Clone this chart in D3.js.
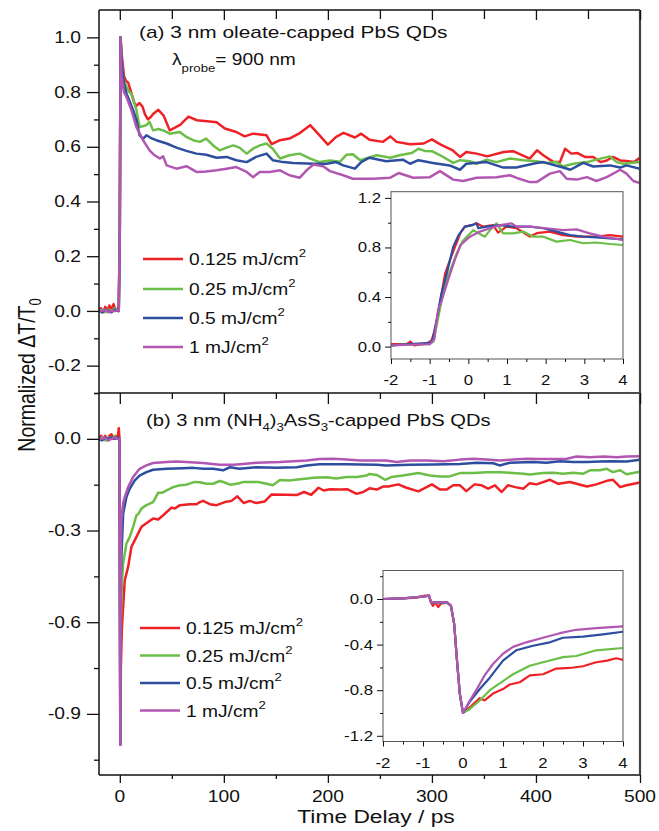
<!DOCTYPE html>
<html><head><meta charset="utf-8">
<script src="https://cdn.jsdelivr.net/npm/d3@7"></script>
<style>body{margin:0;background:#fff} text{font-family:"Liberation Sans",Arial,sans-serif;fill:#111}</style>
</head><body><svg id="c" width="659" height="831"></svg>
<script>
const legendLabels = ["0.125 mJ/cm","0.25 mJ/cm","0.5 mJ/cm","1 mJ/cm"];
const colors = ["#ee2226","#6cbe47","#2d4d9f","#b157b1"];

// Panel (a) main traces [time ps, normalized dT/T0]
const aRed = [[-20,0],[-18,0.01],[-16,-0.005],[-14,0.015],[-12,0],[-10,0.02],[-8,0.005],[-6,0.025],[-4,0],[-2,0.01],[-1,0.005],[0,0.3],[0.7,1.0],[2,0.93],[4,0.86],[6,0.84],[8,0.835],[10,0.81],[12,0.785],[14,0.76],[16,0.75],[19,0.76],[22,0.745],[24,0.72],[27,0.70],[30,0.71],[32,0.72],[37,0.735],[42,0.715],[48,0.66],[53,0.67],[58,0.68],[66,0.71],[74,0.697],[84,0.693],[93,0.69],[101,0.667],[112,0.654],[120,0.638],[128,0.648],[141,0.642],[146,0.61],[154,0.624],[163,0.63],[173,0.65],[183,0.679],[192,0.642],[200,0.608],[208,0.636],[215,0.651],[226,0.634],[232,0.648],[240,0.626],[253,0.618],[260,0.638],[266,0.618],[279,0.609],[292,0.612],[300,0.627],[308,0.609],[320,0.587],[327,0.563],[333,0.581],[343,0.575],[353,0.565],[369,0.581],[378,0.584],[394,0.557],[401,0.587],[407,0.569],[417,0.544],[423,0.544],[428,0.593],[434,0.575],[440,0.577],[447,0.563],[455,0.563],[462,0.544],[468,0.55],[474,0.563],[481,0.55],[487,0.548],[494,0.544],[500,0.56]];
const aGreen = [[-20,0],[-17,0.005],[-14,-0.005],[-11,0.005],[-8,0],[-5,0.01],[-2,0],[-1,0],[0,0.3],[0.7,1.0],[2,0.9],[4,0.84],[6.4,0.82],[9,0.80],[11,0.795],[14,0.76],[16,0.734],[19,0.672],[22,0.675],[25.6,0.679],[28.6,0.691],[32,0.66],[37,0.665],[41.7,0.66],[48,0.648],[57.7,0.654],[64,0.636],[70.5,0.624],[77,0.618],[83,0.63],[89.7,0.605],[96,0.587],[102.6,0.597],[109,0.605],[115,0.597],[122,0.575],[128,0.593],[134.6,0.605],[141,0.612],[147,0.593],[154,0.557],[163,0.569],[173,0.575],[183,0.557],[192,0.544],[202,0.55],[211.5,0.545],[218,0.571],[224,0.573],[231,0.551],[247,0.569],[260,0.56],[269,0.569],[280.5,0.577],[287,0.593],[293,0.585],[300,0.584],[308,0.569],[320.5,0.541],[327,0.551],[336.5,0.547],[343,0.538],[352.6,0.553],[362,0.544],[375,0.557],[388,0.551],[400.6,0.547],[410,0.541],[420,0.544],[426,0.528],[436,0.538],[449,0.544],[458,0.553],[471,0.565],[477.6,0.544],[484,0.538],[500,0.544]];
const aBlue = [[-20,0],[-17,-0.005],[-14,0.005],[-11,0],[-8,-0.005],[-5,0.005],[-2,0],[-1,0],[0,0.3],[0.7,1.0],[2,0.9],[4,0.83],[6.4,0.795],[9,0.77],[12.8,0.734],[16,0.697],[19,0.642],[22.4,0.63],[25.6,0.642],[30,0.632],[35,0.624],[45,0.612],[54.5,0.597],[64,0.585],[73.7,0.575],[83,0.571],[93,0.56],[102.6,0.563],[112,0.551],[122,0.544],[131,0.563],[141,0.575],[147,0.551],[157,0.544],[166.6,0.541],[186,0.538],[199,0.538],[208,0.544],[214.7,0.532],[226,0.52],[232,0.544],[240,0.56],[256,0.547],[272,0.553],[279,0.538],[287,0.551],[301,0.541],[317,0.532],[327,0.516],[333,0.538],[352.6,0.544],[368.6,0.524],[381,0.524],[400.6,0.541],[407,0.544],[426,0.524],[433,0.516],[445.5,0.541],[455,0.528],[471,0.532],[481,0.524],[487,0.532],[500,0.52]];
const aMag = [[-20,0],[-17,0],[-14,0.005],[-11,-0.005],[-8,0],[-5,0],[-2,0.005],[-1,0],[0,0.3],[0.7,1.0],[1.6,0.86],[4,0.8],[6.4,0.782],[11.2,0.734],[16,0.672],[22.4,0.624],[28.6,0.587],[33.4,0.569],[38.5,0.557],[41.7,0.565],[45,0.532],[54.5,0.52],[64,0.529],[73.7,0.508],[83,0.51],[93,0.514],[102.6,0.52],[112,0.526],[122,0.508],[128,0.489],[134.6,0.508],[144,0.508],[154,0.514],[163,0.496],[173,0.487],[179.5,0.514],[186,0.535],[195.5,0.529],[202,0.511],[214.7,0.496],[224,0.483],[243.6,0.483],[260,0.487],[268,0.504],[282,0.487],[298,0.489],[307.7,0.511],[320.5,0.48],[330,0.475],[343,0.487],[362,0.489],[375,0.496],[381,0.487],[394,0.471],[400.6,0.471],[413.5,0.502],[423,0.511],[429.5,0.483],[439,0.48],[449,0.489],[458,0.475],[468,0.489],[481,0.516],[487,0.502],[493.6,0.475],[500,0.467]];

// Panel (a) inset traces [time ps, value]
const aInRed = [[-2,0.02],[-1.8,0.02],[-1.6,0.02],[-1.5,0.04],[-1.4,0.01],[-1.2,0.02],[-1.05,0.03],[-0.95,0.05],[-0.85,0.15],[-0.75,0.32],[-0.6,0.59],[-0.45,0.72],[-0.35,0.8],[-0.2,0.92],[-0.09,0.968],[0.085,0.98],[0.21,0.995],[0.385,0.968],[0.64,0.98],[0.77,0.92],[0.99,0.968],[1.25,0.955],[1.59,0.887],[1.77,0.915],[2.1,0.928],[2.45,0.9],[2.8,0.887],[3.3,0.887],[3.66,0.9],[4,0.887]];
const aInGreen = [[-2,0.01],[-1.5,0.02],[-1.2,0.02],[-1,0.02],[-0.9,0.04],[-0.8,0.2],[-0.7,0.36],[-0.56,0.54],[-0.3,0.753],[-0.15,0.85],[-0.04,0.887],[0.13,0.94],[0.26,0.914],[0.43,0.887],[0.56,0.94],[0.73,0.995],[0.9,0.914],[1.16,0.914],[1.42,0.928],[1.68,0.887],[1.94,0.887],[2.28,0.847],[2.63,0.86],[2.97,0.834],[3.3,0.84],[3.66,0.828],[4,0.82]];
const aInBlue = [[-2,0.01],[-1.5,0.02],[-1,0.03],[-0.92,0.06],[-0.8,0.25],[-0.7,0.42],[-0.55,0.6],[-0.39,0.806],[-0.25,0.9],[-0.09,0.968],[0.1,0.98],[0.21,0.995],[0.26,0.955],[0.47,0.968],[0.82,0.98],[1.16,0.968],[1.59,0.968],[1.94,0.955],[2.28,0.928],[2.63,0.9],[2.97,0.887],[3.32,0.882],[3.66,0.874],[4,0.866]];
const aInMag = [[-2,0.01],[-1.5,0.015],[-1,0.02],[-0.88,0.06],[-0.78,0.3],[-0.7,0.36],[-0.52,0.54],[-0.35,0.7],[-0.2,0.82],[0.04,0.887],[0.3,0.928],[0.56,0.955],[0.82,0.98],[1.12,0.995],[1.25,0.968],[1.59,0.968],[2.02,0.955],[2.45,0.94],[2.8,0.946],[3.14,0.914],[3.49,0.887],[4,0.86]];

// Panel (b) main traces
const bRed = [[-20,0],[-18,0.01],[-16,0],[-14,0.01],[-12,-0.005],[-10,0.01],[-8,0.015],[-6,0],[-4,0.01],[-2,0],[-1,0.035],[-0.3,0],[0.5,-1.0],[1,-0.75],[2,-0.62],[3.2,-0.55],[4.8,-0.462],[8,-0.419],[11.2,-0.353],[16,-0.321],[20.8,-0.288],[27.2,-0.272],[32,-0.261],[36.9,-0.264],[41.7,-0.25],[49.7,-0.225],[52.9,-0.228],[57.7,-0.217],[67.3,-0.214],[73.7,-0.214],[77,-0.207],[80,-0.203],[86.5,-0.214],[93,-0.217],[101,-0.207],[107.4,-0.203],[113,-0.188],[119,-0.21],[125,-0.203],[131,-0.21],[139.4,-0.205],[146,-0.182],[160,-0.183],[170,-0.184],[177,-0.174],[184,-0.183],[191,-0.16],[196,-0.169],[202,-0.165],[211.5,-0.166],[219,-0.165],[227.6,-0.18],[234,-0.174],[240,-0.162],[247,-0.166],[253,-0.156],[258,-0.156],[267.6,-0.149],[275.6,-0.16],[287,-0.172],[300,-0.149],[307.7,-0.166],[314,-0.166],[320.5,-0.152],[327,-0.152],[333,-0.171],[341,-0.149],[347.8,-0.152],[354,-0.163],[360.6,-0.152],[367,-0.174],[373,-0.152],[380,-0.158],[388,-0.163],[394,-0.145],[400.6,-0.149],[413.5,-0.134],[421.5,-0.147],[432.7,-0.141],[439,-0.147],[449,-0.156],[458,-0.149],[469.5,-0.136],[474,-0.134],[481,-0.158],[487,-0.152],[500,-0.143]];
const bGreen = [[-20,0],[-17,0.005],[-14,-0.005],[-11,0.005],[-8,0],[-5,0.01],[-2,0],[-0.3,0],[0.5,-1.0],[1,-0.6],[2,-0.47],[3.2,-0.408],[6.4,-0.342],[9.6,-0.321],[12.8,-0.288],[16,-0.25],[18,-0.245],[20.8,-0.228],[25.6,-0.217],[32,-0.207],[36.9,-0.176],[41,-0.176],[45,-0.169],[51.3,-0.158],[57.7,-0.152],[64,-0.15],[72,-0.141],[77,-0.142],[83,-0.147],[89.7,-0.147],[96,-0.138],[101,-0.143],[106,-0.15],[115,-0.145],[119,-0.141],[128,-0.141],[133,-0.141],[141,-0.147],[147,-0.152],[154,-0.135],[163,-0.136],[173,-0.132],[180,-0.13],[186,-0.127],[199,-0.126],[208,-0.13],[218,-0.125],[228,-0.125],[237,-0.12],[240,-0.115],[247,-0.118],[255,-0.134],[261,-0.125],[272,-0.12],[287,-0.112],[298,-0.12],[307.7,-0.123],[317,-0.123],[327,-0.112],[340,-0.112],[352.6,-0.109],[365,-0.109],[378,-0.112],[388,-0.114],[394,-0.117],[407,-0.112],[416.6,-0.111],[426,-0.114],[436,-0.111],[445.5,-0.114],[452,-0.103],[461.5,-0.103],[468,-0.098],[474,-0.109],[481,-0.103],[487,-0.116],[500,-0.108]];
const bBlue = [[-20,0],[-17,-0.005],[-14,0.005],[-11,0],[-8,0.005],[-5,0],[-2,0.005],[-0.3,0],[0.5,-1.0],[1,-0.45],[1.6,-0.38],[3.2,-0.245],[6.4,-0.19],[9.6,-0.163],[14.4,-0.136],[19,-0.12],[25.6,-0.109],[32,-0.101],[45,-0.098],[61,-0.096],[70.5,-0.095],[80,-0.098],[89.7,-0.098],[99.3,-0.103],[105.8,-0.093],[115,-0.098],[131,-0.093],[150.7,-0.095],[170,-0.093],[179.5,-0.087],[192,-0.083],[218,-0.083],[231,-0.084],[247,-0.085],[256,-0.087],[279,-0.085],[302,-0.084],[327,-0.082],[343,-0.078],[359,-0.08],[365,-0.087],[375,-0.078],[397.5,-0.076],[410,-0.078],[423,-0.073],[436,-0.076],[449,-0.076],[461.5,-0.074],[474,-0.073],[487,-0.074],[500,-0.068]];
const bMag = [[-20,0],[-17,0],[-14,0.005],[-11,-0.005],[-8,0],[-5,0.005],[-2,0],[-0.3,0],[0.5,-1.0],[1,-0.35],[1.6,-0.26],[3.2,-0.21],[4.8,-0.19],[8,-0.158],[12.8,-0.125],[19,-0.098],[25.6,-0.087],[32,-0.079],[45,-0.076],[54.5,-0.074],[64,-0.076],[80,-0.079],[96,-0.085],[109,-0.085],[118.6,-0.082],[131,-0.078],[154,-0.076],[179.5,-0.071],[192,-0.066],[205,-0.065],[218,-0.068],[231,-0.071],[247,-0.071],[256,-0.071],[266,-0.076],[279,-0.071],[295,-0.071],[311,-0.073],[327,-0.068],[340,-0.065],[352.6,-0.068],[365,-0.071],[378,-0.068],[391,-0.065],[404,-0.066],[416.6,-0.066],[429.5,-0.065],[439,-0.058],[452,-0.06],[465,-0.058],[477.6,-0.06],[487,-0.058],[500,-0.057]];

// Panel (b) inset traces
const bInRed = [[-2,0],[-1.6,0.005],[-1.2,0.01],[-0.95,0.03],[-0.85,0.03],[-0.8,-0.03],[-0.75,-0.06],[-0.7,-0.03],[-0.62,-0.07],[-0.55,-0.04],[-0.4,-0.03],[-0.3,-0.06],[-0.22,-0.22],[-0.15,-0.54],[-0.08,-0.83],[0,-1.0],[0.17,-0.95],[0.42,-0.87],[0.54,-0.89],[0.75,-0.83],[1.0,-0.79],[1.17,-0.75],[1.42,-0.73],[1.67,-0.67],[2.0,-0.66],[2.33,-0.61],[2.67,-0.605],[3.0,-0.59],[3.33,-0.555],[3.6,-0.54],[3.83,-0.52],[4.0,-0.535]];
const bInGreen = [[-2,0],[-1.5,0.005],[-1.0,0.02],[-0.85,0.03],[-0.8,-0.03],[-0.6,-0.03],[-0.4,-0.03],[-0.3,-0.06],[-0.22,-0.22],[-0.15,-0.54],[-0.08,-0.83],[0,-1.0],[0.17,-0.965],[0.42,-0.89],[0.67,-0.8],[1.0,-0.72],[1.25,-0.66],[1.67,-0.585],[2.0,-0.555],[2.5,-0.51],[2.83,-0.5],[3.33,-0.45],[4,-0.43]];
const bInBlue = [[-2,0],[-1.5,0.005],[-1.0,0.02],[-0.85,0.03],[-0.8,-0.03],[-0.6,-0.03],[-0.4,-0.03],[-0.3,-0.06],[-0.22,-0.22],[-0.15,-0.54],[-0.08,-0.83],[0,-1.0],[0.17,-0.9],[0.42,-0.79],[0.67,-0.69],[1.0,-0.54],[1.33,-0.45],[1.75,-0.41],[2.17,-0.38],[2.5,-0.34],[3,-0.33],[3.5,-0.31],[4,-0.287]];
const bInMag = [[-2,0],[-1.5,0.005],[-1.0,0.02],[-0.85,0.03],[-0.8,-0.03],[-0.6,-0.03],[-0.4,-0.03],[-0.3,-0.06],[-0.22,-0.22],[-0.15,-0.54],[-0.08,-0.83],[0,-1.0],[0.17,-0.89],[0.33,-0.8],[0.54,-0.67],[0.75,-0.57],[1,-0.48],[1.25,-0.42],[1.58,-0.38],[2,-0.34],[2.42,-0.3],[2.83,-0.27],[3.33,-0.255],[4,-0.24]];

// Tick values
const xMajor = [0,100,200,300,400,500];
const xMinor = [50,150,250,350,450];
const aYMajor = [-0.2,0,0.2,0.4,0.6,0.8,1.0];
const aYMinor = [-0.3,-0.1,0.1,0.3,0.5,0.7,0.9];
const bYMajor = [0,-0.3,-0.6,-0.9];
const bYMinor = [0.15,-0.15,-0.45,-0.75,-1.05];
const inXMajor = [-2,-1,0,1,2,3,4];
const inXMinor = [-1.5,-0.5,0.5,1.5,2.5,3.5];
const aInYMajor = [0,0.4,0.8,1.2];
const aInYMinor = [0.2,0.6,1.0];
const bInYMajor = [0,-0.4,-0.8,-1.2];
const bInYMinor = [0.2,-0.2,-0.6,-1.0];

const SX = 1.2;
const svg = d3.select("#c");
const fmt = v => (Math.abs(v) < 1e-9 ? 0 : v).toFixed(1);
const fmtInt = v => String(v);

const x = d3.scaleLinear([-20,500],[99,640]);
const yA = d3.scaleLinear([-0.3,1.1],[393,10]);
const yB = d3.scaleLinear([-1.1,0.15],[775,393]);
const xIA = d3.scaleLinear([-2,4],[391,623]);
const yIA = d3.scaleLinear([-0.1,1.25],[359,191.7]);
const xIB = d3.scaleLinear([-2,4],[383,623]);
const yIB = d3.scaleLinear([-1.25,0.25],[741.5,570.5]);

function text(x0,y0,anchor,size,rot){
  return svg.append("text")
    .attr("transform",`translate(${x0},${y0}) scale(${SX},1)` + (rot?` rotate(${rot})`:""))
    .attr("text-anchor",anchor).attr("font-size",size);
}
function ticks(gx, gy, axisFn, scale, values, size, sw){
  const g = svg.append("g").attr("transform",`translate(${gx},${gy})`)
    .call(axisFn(scale).tickValues(values).tickSize(size).tickFormat(""));
  g.select(".domain").remove();
  g.selectAll("line").attr("stroke","#111").attr("stroke-width",sw||1.3);
  g.selectAll("text").remove();
  return g;
}
function clip(id,x0,y0,w,h){
  svg.append("clipPath").attr("id",id).append("rect").attr("x",x0).attr("y",y0).attr("width",w).attr("height",h);
}
function drawLines(sets, xs, ys, clipId, sw){
  const line = d3.line().x(d=>xs(d[0])).y(d=>ys(d[1]));
  const g = svg.append("g").attr("clip-path",`url(#${clipId})`);
  sets.forEach((s,i)=>{
    g.append("path").attr("d",line(s)).attr("fill","none").attr("stroke",colors[i])
      .attr("stroke-width",sw).attr("stroke-linejoin","round").attr("stroke-linecap","round");
  });
}

clip("ca",99,10,541,383);
clip("cb",99,393,541,382);
clip("cia",xIA.range()[0],yIA.range()[1],xIA.range()[1]-xIA.range()[0],yIA.range()[0]-yIA.range()[1]);
clip("cib",xIB.range()[0],yIB.range()[1],xIB.range()[1]-xIB.range()[0],yIB.range()[0]-yIB.range()[1]);

drawLines([aRed,aGreen,aBlue,aMag], x, yA, "ca", 2.5);
drawLines([bRed,bGreen,bBlue,bMag], x, yB, "cb", 2.5);

// main frame
svg.append("line").attr("x1",99).attr("x2",640).attr("y1",10).attr("y2",10).attr("stroke","#111").attr("stroke-width",1.5);
svg.append("line").attr("x1",99).attr("x2",640).attr("y1",393).attr("y2",393).attr("stroke","#111").attr("stroke-width",1.5);
svg.append("line").attr("x1",99).attr("x2",640).attr("y1",775).attr("y2",775).attr("stroke","#111").attr("stroke-width",1.5);
svg.append("line").attr("x1",99).attr("x2",99).attr("y1",10).attr("y2",775).attr("stroke","#111").attr("stroke-width",1.5);
svg.append("line").attr("x1",640).attr("x2",640).attr("y1",10).attr("y2",775).attr("stroke","#444").attr("stroke-width",2.2);

ticks(0,10,d3.axisBottom,x,xMajor,10);
ticks(0,10,d3.axisBottom,x,xMinor,9);
ticks(0,393,d3.axisBottom,x,xMajor,11);
ticks(0,393,d3.axisBottom,x,xMinor,6);
ticks(0,775,d3.axisBottom,x,xMajor,8);
ticks(0,775,d3.axisBottom,x,xMinor,4);
ticks(99,0,d3.axisLeft,yA,aYMajor,12);
ticks(99,0,d3.axisLeft,yA,aYMinor,5);
ticks(99,0,d3.axisLeft,yB,bYMajor,12);
ticks(99,0,d3.axisLeft,yB,bYMinor,5);

aYMajor.forEach(v=>text(81,yA(v)+5.6,"end",16).text(fmt(v)));
bYMajor.forEach(v=>text(81,yB(v)+5.6,"end",16).text(fmt(v)));
xMajor.forEach(v=>text(x(v),802,"middle",16).text(fmtInt(v)));

text(376,823,"middle",19).text("Time Delay / ps");
const yl = text(35,375,"middle",19.5,-90);
yl.append("tspan").text("Normalized \u0394T/T");
yl.append("tspan").attr("font-size",13).attr("dy",5).text("0");

text(139,38,"start",17.4).text("(a) 3 nm oleate-capped PbS QDs");
const lam = text(172,65,"start",16);
lam.append("tspan").text("\u03bb");
lam.append("tspan").attr("font-size",11).attr("dy",7).text("probe");
lam.append("tspan").attr("dy",-7).text("= 900 nm");

const tb = text(146,426,"start",16.8);
tb.append("tspan").text("(b) 3 nm (NH");
tb.append("tspan").attr("font-size",11).attr("dy",5).text("4");
tb.append("tspan").attr("dy",-5).text(")");
tb.append("tspan").attr("font-size",11).attr("dy",5).text("3");
tb.append("tspan").attr("dy",-5).text("AsS");
tb.append("tspan").attr("font-size",11).attr("dy",5).text("3");
tb.append("tspan").attr("dy",-5).text("-capped PbS QDs");

function legend(x0, rows){
  rows.forEach((yy,i)=>{
    svg.append("line").attr("x1",x0).attr("x2",x0+40).attr("y1",yy).attr("y2",yy)
      .attr("stroke",colors[i]).attr("stroke-width",2.5);
    const t = text(x0+46,yy+6,"start",16);
    t.append("tspan").text(legendLabels[i]);
    t.append("tspan").attr("font-size",11).attr("dy",-8).text("2");
  });
}
legend(143,[259,289,318,347]);
legend(140,[628,655.5,683,710.5]);

function inset(xs, ys, sets, clipId, yMaj, yMin){
  const [x0,x1] = xs.range(), [y1,y0] = ys.range();
  svg.append("rect").attr("x",x0).attr("y",y0).attr("width",x1-x0).attr("height",y1-y0).attr("fill","#fff");
  drawLines(sets, xs, ys, clipId, 2.2);
  svg.append("rect").attr("x",x0).attr("y",y0).attr("width",x1-x0).attr("height",y1-y0)
    .attr("fill","none").attr("stroke","#555").attr("stroke-width",1);
  ticks(x0,0,d3.axisLeft,ys,yMaj,6,1);
  ticks(x0,0,d3.axisLeft,ys,yMin,3,1);
  ticks(0,y1,d3.axisBottom,xs,inXMajor,5,1);
  ticks(0,y1,d3.axisBottom,xs,inXMinor,3,1);
  yMaj.forEach(v=>text(x0-10,ys(v)+5,"end",14).text(fmt(v)));
  inXMajor.forEach(v=>text(xs(v),y1+26,"middle",14).text(fmtInt(v)));
}
inset(xIA, yIA, [aInRed,aInGreen,aInBlue,aInMag], "cia", aInYMajor, aInYMinor);
inset(xIB, yIB, [bInRed,bInGreen,bInBlue,bInMag], "cib", bInYMajor, bInYMinor);
</script></body></html>
